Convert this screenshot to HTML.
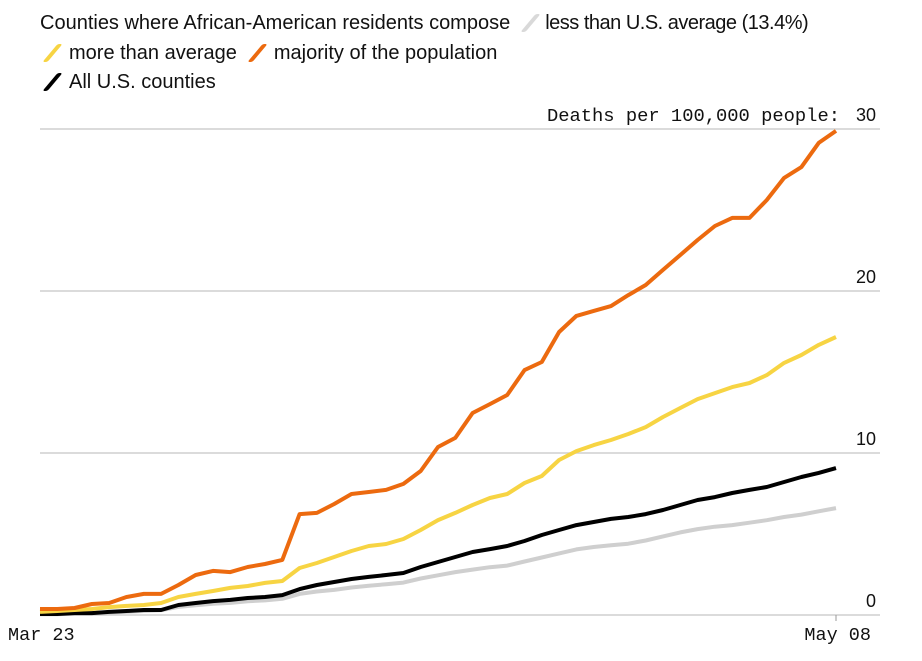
<!DOCTYPE html>
<html><head><meta charset="utf-8">
<style>
html,body{margin:0;padding:0;background:#fff;}
body{width:922px;height:661px;overflow:hidden;font-family:"Liberation Sans",sans-serif;}
.leg{position:absolute;font-size:20px;color:#111;white-space:nowrap;}
.sw{display:inline-block;width:5px;height:18px;transform:skewX(-40deg) ;vertical-align:-3px;margin:0 14px 0 10px;border-radius:2px;}
</style></head>
<body>
<div>
<div class="leg" style="left:40px;top:12px;">Counties where African-American residents compose<span class="sw" style="background:#d9d9d9;margin-left:18px;margin-right:12px"></span><span style="letter-spacing:-0.5px">less than U.S. average (13.4%)</span></div>
<div class="leg" style="left:40px;top:42px;"><span class="sw" style="background:#f7d443"></span>more than average<span class="sw" style="background:#ec6a0f;margin-left:18px"></span>majority of the population</div>
<div class="leg" style="left:40px;top:71px;"><span class="sw" style="background:#000"></span>All U.S. counties</div>
</div>
<svg id="chart" width="922" height="661" style="position:absolute;left:0;top:0"></svg>
<script>
const dates = ["Mar 23","May 08"];
const yTicks = [0,10,20,30];
const majority = [0.37,0.37,0.43,0.68,0.74,1.11,1.30,1.30,1.85,2.47,2.72,2.65,2.96,3.15,3.40,6.23,6.30,6.85,7.47,7.59,7.72,8.09,8.89,10.37,10.93,12.47,13.02,13.58,15.12,15.62,17.47,18.46,18.77,19.07,19.75,20.37,21.30,22.22,23.15,24.01,24.51,24.51,25.62,26.98,27.65,29.14,29.88];
const more = [0.19,0.25,0.31,0.37,0.49,0.56,0.62,0.74,1.11,1.30,1.48,1.67,1.79,1.98,2.10,2.90,3.21,3.58,3.95,4.26,4.38,4.69,5.25,5.86,6.30,6.79,7.22,7.47,8.15,8.58,9.57,10.12,10.49,10.80,11.17,11.60,12.22,12.78,13.33,13.70,14.07,14.32,14.81,15.56,16.05,16.67,17.16];
const allCounties = [0.06,0.06,0.12,0.12,0.19,0.25,0.31,0.31,0.62,0.74,0.86,0.93,1.05,1.11,1.23,1.60,1.85,2.04,2.22,2.35,2.47,2.59,2.96,3.27,3.58,3.89,4.07,4.26,4.57,4.94,5.25,5.55,5.74,5.93,6.05,6.23,6.48,6.79,7.10,7.28,7.53,7.72,7.90,8.21,8.52,8.77,9.07];
const less = [0.05,0.05,0.1,0.1,0.15,0.2,0.25,0.3,0.5,0.6,0.7,0.75,0.85,0.9,1.0,1.3,1.45,1.55,1.7,1.8,1.9,2.0,2.25,2.45,2.65,2.8,2.95,3.05,3.3,3.55,3.8,4.05,4.2,4.3,4.4,4.6,4.85,5.1,5.3,5.45,5.55,5.7,5.85,6.05,6.2,6.4,6.6];

const svg = document.getElementById('chart');
const NS = 'http://www.w3.org/2000/svg';
const X0=40, X1=836, Y0=615, Y1=129, YMAX=30;
const n = majority.length;
const xs = i => X0 + (X1-X0)*i/(n-1);
const ys = v => Y0 - (Y0-Y1)*v/YMAX;
function mk(tag, attrs){const e=document.createElementNS(NS,tag);for(const k in attrs)e.setAttribute(k,attrs[k]);svg.appendChild(e);return e;}

yTicks.forEach(t=>{
  const g = mk('line',{x1:X0,x2:880,y1:ys(t),y2:ys(t),stroke:'#cfcfcf','stroke-width':1.5});
  
  
  const tx = mk('text',{x:876,y:ys(t)-8,'text-anchor':'end','font-family':'Liberation Sans, sans-serif','font-size':18,fill:'#111'});
  tx.textContent = t;
  
  
});
const yt = mk('text',{x:840,y:ys(30)-8,'text-anchor':'end','font-family':'Liberation Mono, monospace','font-size':18.8,fill:'#111'});
yt.textContent='Deaths per 100,000 people:';



const tick = mk('line',{x1:X1,x2:X1,y1:Y0,y2:Y0+6,stroke:'#999','stroke-width':1});


const xl0 = mk('text',{x:8,y:640,'font-family':'Liberation Mono, monospace','font-size':18.5,fill:'#111'});
xl0.textContent=dates[0];


const xl1 = mk('text',{x:871,y:640,'text-anchor':'end','font-family':'Liberation Mono, monospace','font-size':18.5,fill:'#111'});
xl1.textContent=dates[1];



function line(data,color,name){
  const d = data.map((v,i)=>(i?'L':'M')+xs(i).toFixed(1)+','+ys(v).toFixed(1)).join('');
  const p = mk('path',{d:d,fill:'none',stroke:color,'stroke-width':4,'stroke-linejoin':'round'});
  
  
}
line(less,'#cfcfcf','line-less-than-average');
line(allCounties,'#000','line-all-counties');
line(more,'#f7d443','line-more-than-average');
line(majority,'#ec6a0f','line-majority');
</script>
</body></html>
